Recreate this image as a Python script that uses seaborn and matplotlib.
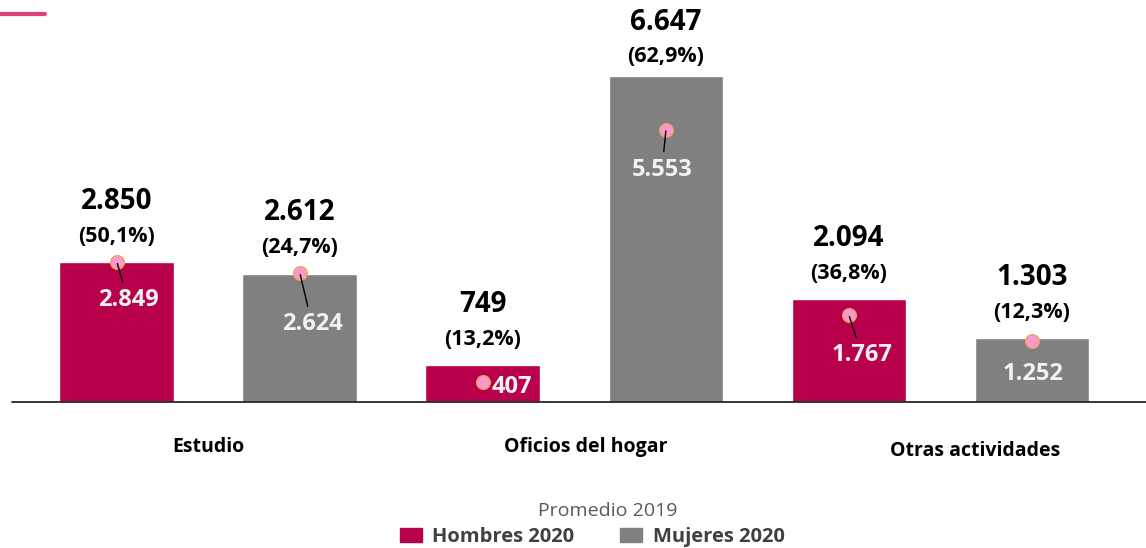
import matplotlib
matplotlib.use("Agg")
import matplotlib.pyplot as plt
from matplotlib.patches import Patch
import seaborn as sns
import pandas as pd

###############
# data
###############
categorias = ["Estudio", "Oficios del hogar", "Otras actividades"]
sexos = ["Hombres 2020", "Mujeres 2020", "Hombres 2020", "Mujeres 2020", "Hombres 2020", "Mujeres 2020"]
valores_2020 = [2850, 2612, 749, 6647, 2094, 1303]
porcentajes = ["(50,1%)", "(24,7%)", "(13,2%)", "(62,9%)", "(36,8%)", "(12,3%)"]
promedio_2019 = [2849, 2624, 407, 5553, 1767, 1252]

###############
# layout / style
###############
colores = {"Hombres 2020": "#B8004B", "Mujeres 2020": "#808080"}
upp = 6647 / 326.0          # data units per pixel
cat_x = [0.50, 2.56, 4.69]   # where the category labels sit
cat_dy = [45, 45, 49]
lab_dx = [11, 12, 29, -4, 13, 1]     # 2019 label offsets (pixels)
lab_dy = [-38, -51, -5, -40, -40, -33]
con_linea = [True, True, False, True, True, False]

sns.set_style("white")
plt.rcParams["font.family"] = ["Open Sans", "DejaVu Sans"]

slots = [f"{categorias[i // 2]} {s}" for i, s in enumerate(sexos)]
df = pd.DataFrame({"slot": slots, "valor": valores_2020, "sexo": sexos})

fig = plt.figure(figsize=(11.46, 5.48), dpi=100)
ax = fig.add_axes([0, 0, 1, 1])

sns.barplot(data=df, x="slot", y="valor", hue="sexo", order=slots, dodge=False,
            palette=colores, width=0.628, errorbar=None, legend=False, ax=ax,
            saturation=1)

xmin, xmax = -0.639, 5.623
ymax = 402 * upp
ax.set_xlim(xmin, xmax)
ax.set_ylim(-146 * upp, ymax)
ax.axis("off")

# base line
ax.plot([xmin + 12 / 183.0, xmax], [0, 0], color="#262626", lw=1.3, zorder=5)

# 2020 totals and percentages
for i, (v, p) in enumerate(zip(valores_2020, porcentajes)):
    y_val = min(v + 61 * upp, ymax - 22 * upp)
    ax.text(i, y_val, f"{v:,}".replace(",", "."), ha="center", va="center",
            fontsize=20, fontweight="bold", color="black")
    ax.text(i, y_val - 35 * upp, p, ha="center", va="center",
            fontsize=15.5, fontweight="bold", color="black")

# 2019 averages: dots and labels
ax.scatter(range(len(promedio_2019)), promedio_2019, s=100, color="#F79AC8",
           edgecolor="#F2A04A", linewidth=0.8, zorder=6)
for i, v in enumerate(promedio_2019):
    arrow = dict(arrowstyle="-", color="black", lw=1, shrinkB=1) if con_linea[i] else None
    ax.annotate(f"{v:,}".replace(",", "."), xy=(i, v),
                xytext=(lab_dx[i], lab_dy[i]), textcoords="offset pixels",
                ha="center", va="center", fontsize=17, fontweight="bold",
                color="#F2F2F2", arrowprops=arrow, zorder=7)

# category labels
for cx, dy, c in zip(cat_x, cat_dy, categorias):
    ax.text(cx, -dy * upp, c, ha="center", va="center", fontsize=14,
            fontweight="bold", color="black")

# pink accent line top-left
fig.add_artist(plt.Line2D([0, 45 / 1146], [1 - 14 / 548, 1 - 14 / 548],
                          color="#E0407A", lw=3, transform=fig.transFigure))

# legend
fig.text(608 / 1146, 1 - 511 / 548, "Promedio 2019", ha="center", va="center",
         fontsize=14, color="#595959")
handles = [Patch(color=colores[k]) for k in ["Hombres 2020", "Mujeres 2020"]]
leg = fig.legend(handles, ["Hombres 2020", "Mujeres 2020"],
                 loc="center", bbox_to_anchor=(592 / 1146, 1 - 537 / 548), ncol=2,
                 frameon=False, fontsize=14.5,
                 handlelength=1.1, handleheight=0.7, handletextpad=0.5,
                 columnspacing=2.3, borderpad=0)
for t in leg.get_texts():
    t.set_fontweight("bold")
    t.set_color("#404040")

fig.savefig("out.png", dpi=100)
